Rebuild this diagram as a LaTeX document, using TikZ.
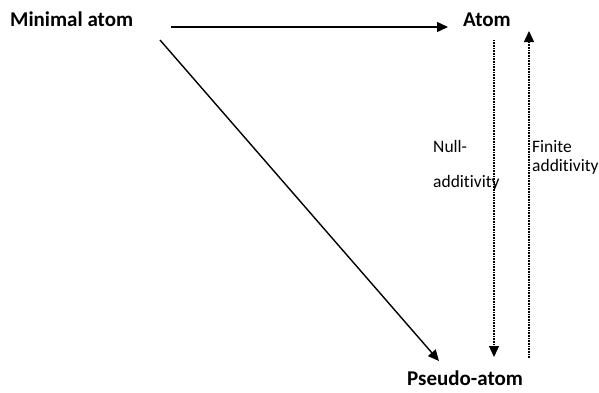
\documentclass[tikz,border=0pt]{standalone}
\usepackage{fontspec}
\setmainfont[Ligatures=NoCommon]{Carlito}
\usetikzlibrary{arrows.meta}
\begin{document}
\begin{tikzpicture}[x=1pt,y=-1pt,
  title/.style={font=\bfseries\fontsize{21}{24}\selectfont, inner sep=0pt, anchor=west},
  lbl/.style={font=\fontsize{17.5}{20}\selectfont, inner sep=0pt, anchor=west},
  tip/.style={-{Triangle[length=11pt,width=10pt]}},
  arr/.style={line width=1.4pt, tip},
  dotarr/.style={line width=1.3pt, dash pattern=on 0.8pt off 0.8pt, tip}]
\useasboundingbox (0,0) rectangle (599,392);
\node[title] (min) at (10,19) {Minimal atom};
\node[title] (atom) at (463,20) {Atom};
\node[title] (pseudo) at (407,378.5) {Pseudo-atom};
\node[lbl] (null1) at (433,146) {Null-};
\node[lbl] (null2) at (433,183) {additivity};
\node[lbl] (fin1) at (532,147) {Finite};
\node[lbl] (fin2) at (532,167) {additivity};
\coordinate (h1) at (171,27);
\coordinate (h2) at (448,27);
\coordinate (d1) at (160,40);
\coordinate (d2) at (439,361);
\coordinate (n1) at (494,40);
\coordinate (n2) at (494,357);
\coordinate (f1) at (529,358);
\coordinate (f2) at (529,31);
\draw[arr] (h1) -- (h2);
\draw[arr] (d1) -- (d2);
\draw[dotarr] (n1) -- (n2);
\draw[dotarr] (f1) -- (f2);
\end{tikzpicture}
\end{document}
